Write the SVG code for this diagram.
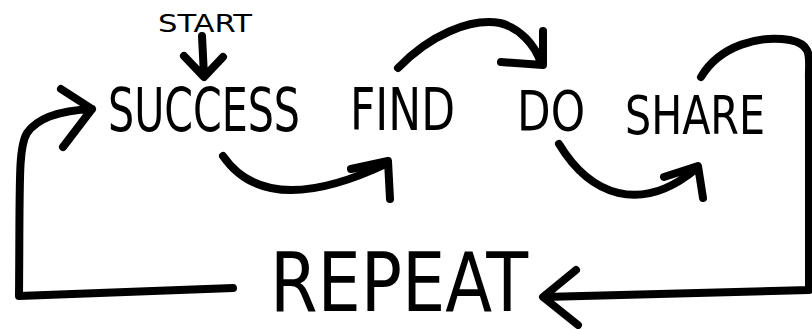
<svg xmlns="http://www.w3.org/2000/svg" width="812" height="329" viewBox="0 0 812 329">
<style>
.w{font-family:"Liberation Sans Narrow","DejaVu Sans Condensed","Liberation Sans",sans-serif;fill:#000}
.c{fill:none;stroke:#000;stroke-width:8;stroke-linecap:round;stroke-linejoin:round}
</style>
<rect width="812" height="329" fill="#fff"/>
<g id="start"><text class="w" x="158" y="32" font-size="25" textLength="94" lengthAdjust="spacingAndGlyphs">START</text></g>
<g id="success"><text class="w" x="108" y="131" font-size="60" textLength="192" lengthAdjust="spacingAndGlyphs">SUCCESS</text></g>
<g id="find"><text class="w" x="350" y="130" font-size="58" textLength="105" lengthAdjust="spacingAndGlyphs">FIND</text></g>
<g id="do"><text class="w" x="517" y="130" font-size="56" textLength="68" lengthAdjust="spacingAndGlyphs">DO</text></g>
<g id="share"><text class="w" x="625" y="134" font-size="53" textLength="140" lengthAdjust="spacingAndGlyphs">SHARE</text></g>
<g id="repeat"><text class="w" x="270" y="311" font-size="82" textLength="258" lengthAdjust="spacingAndGlyphs">REPEAT</text></g>
<g id="connectors">
<path class="c" d="M202 36 L204 76 M184 56 L204 77 L223 57"/>
<path class="c" d="M92 109 C70 110 40 114 27 133 C18 148 20 180 19 296 L233 288 M61 89 L92 109 L63 147"/>
<path class="c" d="M223 156 C250 195 300 205 388 163 M351 169 L388 161 L390 199"/>
<path class="c" d="M398 68 C430 35 470 18 500 23 C520 28 535 45 541 63 M501 62 L543 65 L543 31"/>
<path class="c" d="M559 144 C590 195 640 215 696 169 M664 177 L698 166 L703 198"/>
<path class="c" d="M701 77 C720 45 760 35 790 40 C815 45 808 60 809 80 L809 290 L544 297 M576 270 L543 297 L578 325"/>
</g>
</svg>
